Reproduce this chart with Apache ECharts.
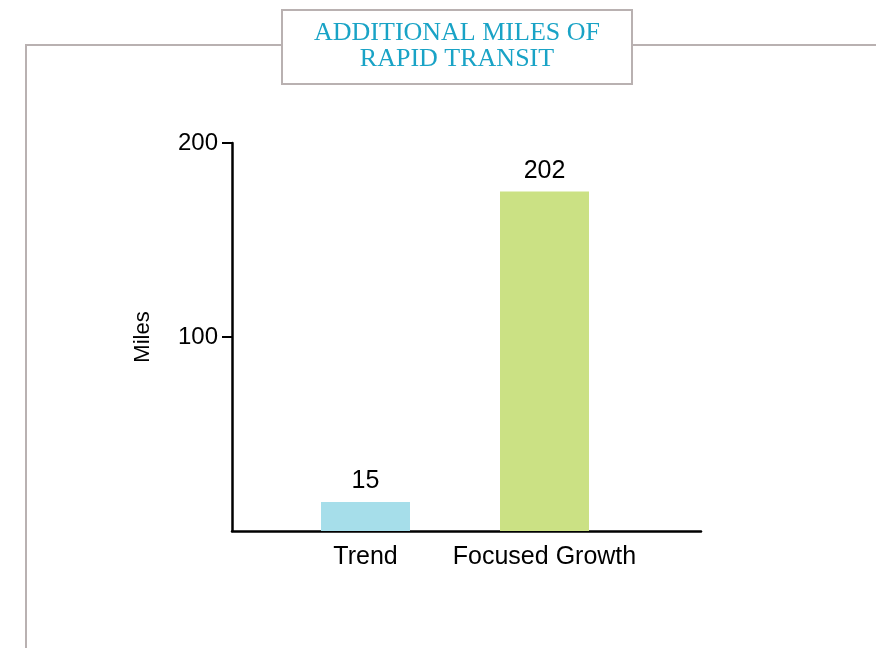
<!DOCTYPE html>
<html>
<head>
<meta charset="utf-8">
<script src="https://cdn.jsdelivr.net/npm/echarts@6/dist/echarts.min.js"></script>
<style>
  html, body { margin: 0; padding: 0; background: #fff; }
  #chart { width: 876px; height: 648px; }
</style>
</head>
<body>
<div id="chart"></div>
<script>
// bar heights as drawn, and the value labels printed above them
const categories = ['Trend', 'Focused Growth'];
const barValues = [15, 175];
const valueLabels = ['15', '202'];
const barColors = ['#a6deea', '#cbe184'];
const yTicks = [100, 200];

const FONT = 'Liberation Sans, Arial, sans-serif';
const chart = echarts.init(document.getElementById('chart'));

chart.setOption({
  backgroundColor: '#fff',
  animation: false,
  title: {
    text: 'ADDITIONAL MILES OF\nRAPID TRANSIT',
    left: 425,
    textAlign: 'center',
    top: 10,
    z: 10,
    backgroundColor: '#fff',
    borderColor: '#b9b1b1',
    borderWidth: 2,
    padding: [10, 32, 12, 32],
    textStyle: {
      fontFamily: 'Liberation Serif, serif',
      fontWeight: 'normal',
      fontSize: 26,
      lineHeight: 26,
      color: '#19a3c6'
    }
  },
  graphic: [{
    type: 'polyline',
    z: 0,
    shape: { points: [[26, 648], [26, 45], [876, 45]] },
    style: { stroke: '#b9b1b1', lineWidth: 2, fill: null }
  }],
  grid: [
    { left: 232, right: 175, top: 143, bottom: 117 },
    { left: 276, right: 242, top: 143, bottom: 117 }
  ],
  xAxis: [
    {
      gridIndex: 0, type: 'category', data: [],
      axisLine: { lineStyle: { color: '#000', width: 2.5 } },
      axisTick: { show: false }, axisLabel: { show: false }
    },
    {
      gridIndex: 1, type: 'category', data: categories,
      axisLine: { show: false }, axisTick: { show: false },
      axisLabel: { interval: 0, color: '#000', fontSize: 25, fontFamily: FONT, margin: 14 }
    }
  ],
  yAxis: [
    {
      gridIndex: 0, type: 'value', min: 0, max: 200, interval: 100,
      name: 'Miles', nameLocation: 'middle', nameGap: 78, nameRotate: 90,
      nameTextStyle: { color: '#000', fontSize: 22, fontFamily: FONT },
      splitLine: { show: false },
      axisLine: { show: true, lineStyle: { color: '#000', width: 2.5 } },
      axisTick: { show: true, length: 10, customValues: yTicks, lineStyle: { color: '#000', width: 2 } },
      axisLabel: {
        color: '#000', fontSize: 24, margin: 14, fontFamily: FONT,
        customValues: yTicks
      }
    },
    {
      gridIndex: 1, type: 'value', min: 0, max: 200, show: false
    }
  ],
  series: [{
    type: 'bar',
    xAxisIndex: 1,
    yAxisIndex: 1,
    barWidth: 89,
    data: barValues.map((v, i) => ({ value: v, itemStyle: { color: barColors[i] } })),
    label: {
      show: true,
      position: 'top',
      distance: 8,
      color: '#000',
      fontSize: 25,
      fontFamily: FONT,
      formatter: p => valueLabels[p.dataIndex]
    }
  }]
});
</script>
</body>
</html>
